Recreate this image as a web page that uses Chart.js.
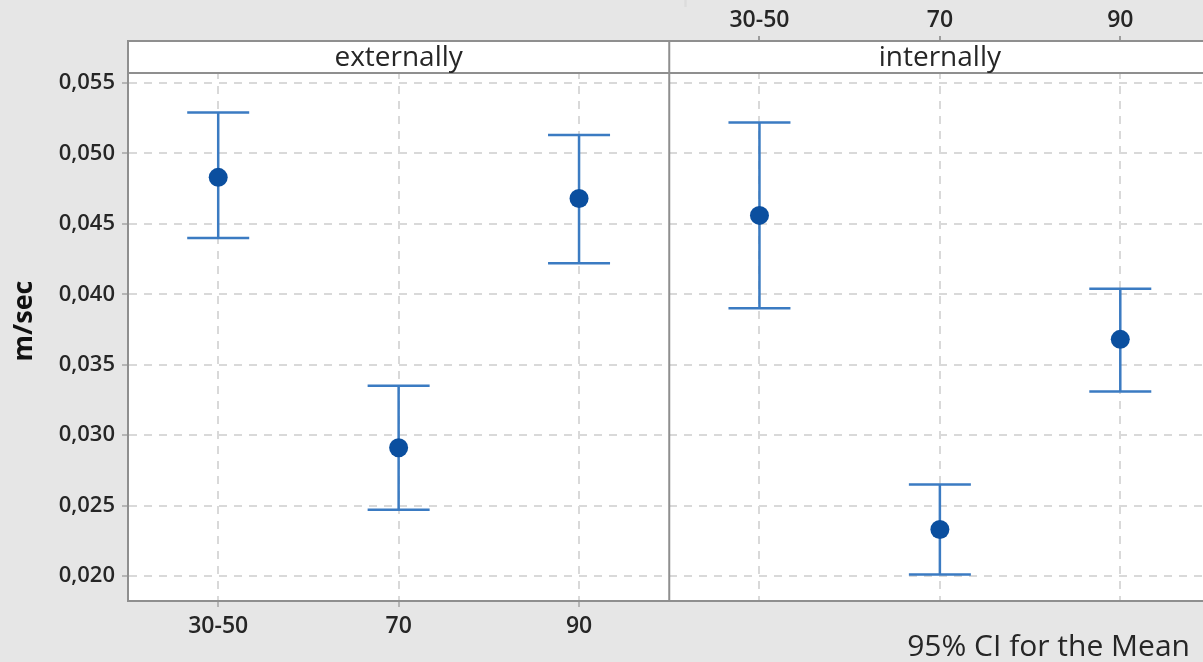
<!DOCTYPE html>
<html>
<head>
<meta charset="utf-8">
<script src="https://cdn.jsdelivr.net/npm/chart.js@4.4.0/dist/chart.umd.min.js"></script>
<style>
  html, body { margin: 0; padding: 0; background: #e6e6e6; overflow: hidden; }
  #wrap { width: 1203px; height: 662px; overflow: hidden; position: relative; }
  #wrap canvas { position: absolute; left: 0; top: 0; }
</style>
</head>
<body>
<div id="wrap"><canvas id="chart" width="1220" height="662"></canvas></div>
<script>
// Panels and categories
const panels = ['externally', 'internally'];
const categories = ['30-50', '70', '90'];
const yTickValues = [0.020, 0.025, 0.030, 0.035, 0.040, 0.045, 0.050, 0.055];

// Means and 95% confidence limits (m/sec)
const extMean  = [0.0483, 0.0291, 0.0468];
const extLower = [0.0440, 0.0247, 0.0422];
const extUpper = [0.0529, 0.0335, 0.0513];
const intMean  = [0.0456, 0.0233, 0.0368];
const intLower = [0.0390, 0.0201, 0.0331];
const intUpper = [0.0522, 0.0265, 0.0404];

const periodTitle = 'December 2015 - April 2016';
const footerText = '95% CI for the Mean';

const FONT = '"Open Sans", "Noto Sans", sans-serif';
const TEXT = '#262626';
const FRAME = '#8f8f8f';
const GRID = '#d9d9d9';
const MARKER = '#0b4f9f';
const WHISKER = '#3b7bc2';

// Build points: each panel occupies three category slots on a 0..6 axis
const means = [extMean, intMean];
const lowers = [extLower, intLower];
const uppers = [extUpper, intUpper];
const points = [];
panels.forEach((p, pi) => {
  categories.forEach((c, ci) => {
    points.push({
      x: pi * categories.length + ci + 0.5,
      y: means[pi][ci],
      lo: lowers[pi][ci],
      hi: uppers[pi][ci]
    });
  });
});
const slotTicks = points.map(p => ({ value: p.x }));

const panelFrame = {
  id: 'panelFrame',
  beforeDraw(chart) {
    const { ctx, chartArea: a } = chart;
    ctx.save();
    ctx.fillStyle = '#ffffff';
    ctx.fillRect(a.left, a.top, a.right - a.left, a.bottom - a.top);
    ctx.restore();
  },
  beforeDatasetsDraw(chart) {
    const { ctx, chartArea: a, scales } = chart;
    const xs = scales.x, ys = scales.y;
    const stripBottom = ys.getPixelForValue(ys.max) + 32;
    ctx.save();
    // header strip
    ctx.fillStyle = '#ffffff';
    ctx.fillRect(a.left + 1, a.top + 1, a.right - a.left, stripBottom - a.top - 1);
    ctx.strokeStyle = FRAME;
    ctx.lineWidth = 2;
    ctx.beginPath();
    ctx.moveTo(a.left, stripBottom);
    ctx.lineTo(a.right, stripBottom);
    // divider between panels
    const xd = xs.getPixelForValue(categories.length);
    ctx.moveTo(xd, a.top);
    ctx.lineTo(xd, a.bottom);
    ctx.stroke();
    ctx.fillStyle = TEXT;
    ctx.font = '500 28px ' + FONT;
    ctx.textAlign = 'center';
    ctx.textBaseline = 'middle';
    panels.forEach((p, pi) => {
      const xc = xs.getPixelForValue(pi * categories.length + categories.length / 2);
      ctx.fillText(p, xc, (a.top + stripBottom) / 2 + 1);
    });
    // confidence interval whiskers
    ctx.strokeStyle = WHISKER;
    ctx.lineWidth = 2.5;
    const cap = 31;
    points.forEach(p => {
      const px = xs.getPixelForValue(p.x);
      const yl = ys.getPixelForValue(p.lo);
      const yh = ys.getPixelForValue(p.hi);
      ctx.beginPath();
      ctx.moveTo(px, yl); ctx.lineTo(px, yh);
      ctx.moveTo(px - cap, yl); ctx.lineTo(px + cap, yl);
      ctx.moveTo(px - cap, yh); ctx.lineTo(px + cap, yh);
      ctx.stroke();
    });
    ctx.restore();
  },
  afterDraw(chart) {
    const { ctx } = chart;
    ctx.save();
    ctx.fillStyle = TEXT;
    ctx.font = '500 30px ' + FONT;
    ctx.textAlign = 'right';
    ctx.textBaseline = 'alphabetic';
    ctx.fillText(footerText, 1190, 656);
    ctx.fillStyle = '#dcdcdc';
    ctx.font = '28px ' + FONT;
    ctx.textAlign = 'center';
    ctx.fillText(periodTitle, 615, 0);
    ctx.restore();
  }
};

new Chart(document.getElementById('chart'), {
  type: 'scatter',
  data: {
    datasets: [{
      data: points,
      backgroundColor: MARKER,
      borderColor: MARKER,
      pointRadius: 9.5,
      pointHoverRadius: 9.5,
      borderWidth: 0
    }]
  },
  options: {
    responsive: false,
    animation: false,
    events: [],
    layout: { padding: { left: 0, right: 6, top: 0, bottom: 0 } },
    plugins: { legend: { display: false }, tooltip: { enabled: false } },
    scales: {
      x: {
        type: 'linear',
        position: 'bottom',
        min: 0,
        max: 6,
        afterBuildTicks: s => { s.ticks = slotTicks.map(t => ({ ...t })); },
        afterFit: s => { s.height = 61; },
        ticks: {
          callback: (v, i) => (i < categories.length ? categories[i] : ''),
          color: TEXT,
          font: { family: FONT, size: 23, weight: '600' },
          padding: 6,
          maxRotation: 0,
          autoSkip: false
        },
        grid: {
          color: GRID,
          lineWidth: 2,
          tickLength: 6,
          tickColor: c => (c.index < categories.length ? '#b5b5b5' : 'rgba(0,0,0,0)')
        },
        border: { display: true, color: FRAME, width: 2, dash: [8, 7] }
      },
      x2: {
        type: 'linear',
        position: 'top',
        min: 0,
        max: 6,
        afterBuildTicks: s => { s.ticks = slotTicks.map(t => ({ ...t })); },
        afterFit: s => { s.height = 41; },
        ticks: {
          callback: (v, i) => (i >= categories.length ? categories[i - categories.length] : ''),
          color: TEXT,
          font: { family: FONT, size: 23, weight: '600' },
          padding: 2,
          maxRotation: 0,
          autoSkip: false
        },
        grid: {
          drawOnChartArea: false,
          tickLength: 5,
          lineWidth: 2,
          tickColor: c => (c.index >= categories.length ? '#9c9c9c' : 'rgba(0,0,0,0)')
        },
        border: { display: true, color: FRAME, width: 2 }
      },
      y: {
        type: 'linear',
        position: 'left',
        min: 0.018225,
        max: 0.05798,
        afterBuildTicks: s => { s.ticks = yTickValues.map(v => ({ value: v })); },
        afterFit: s => { s.width = 128; },
        title: {
          display: true,
          text: 'm/sec',
          color: '#111111',
          font: { family: FONT, size: 27, weight: 'bold' },
          padding: { top: 8, bottom: 0 }
        },
        ticks: {
          callback: v => v.toFixed(3).replace('.', ','),
          color: TEXT,
          font: { family: FONT, size: 22, weight: '600' },
          padding: 7
        },
        grid: {
          color: GRID,
          lineWidth: 2,
          tickLength: 6,
          tickColor: '#b5b5b5'
        },
        border: { display: true, color: FRAME, width: 2, dash: [8, 7] }
      }
    }
  },
  plugins: [panelFrame]
});
</script>
</body>
</html>
